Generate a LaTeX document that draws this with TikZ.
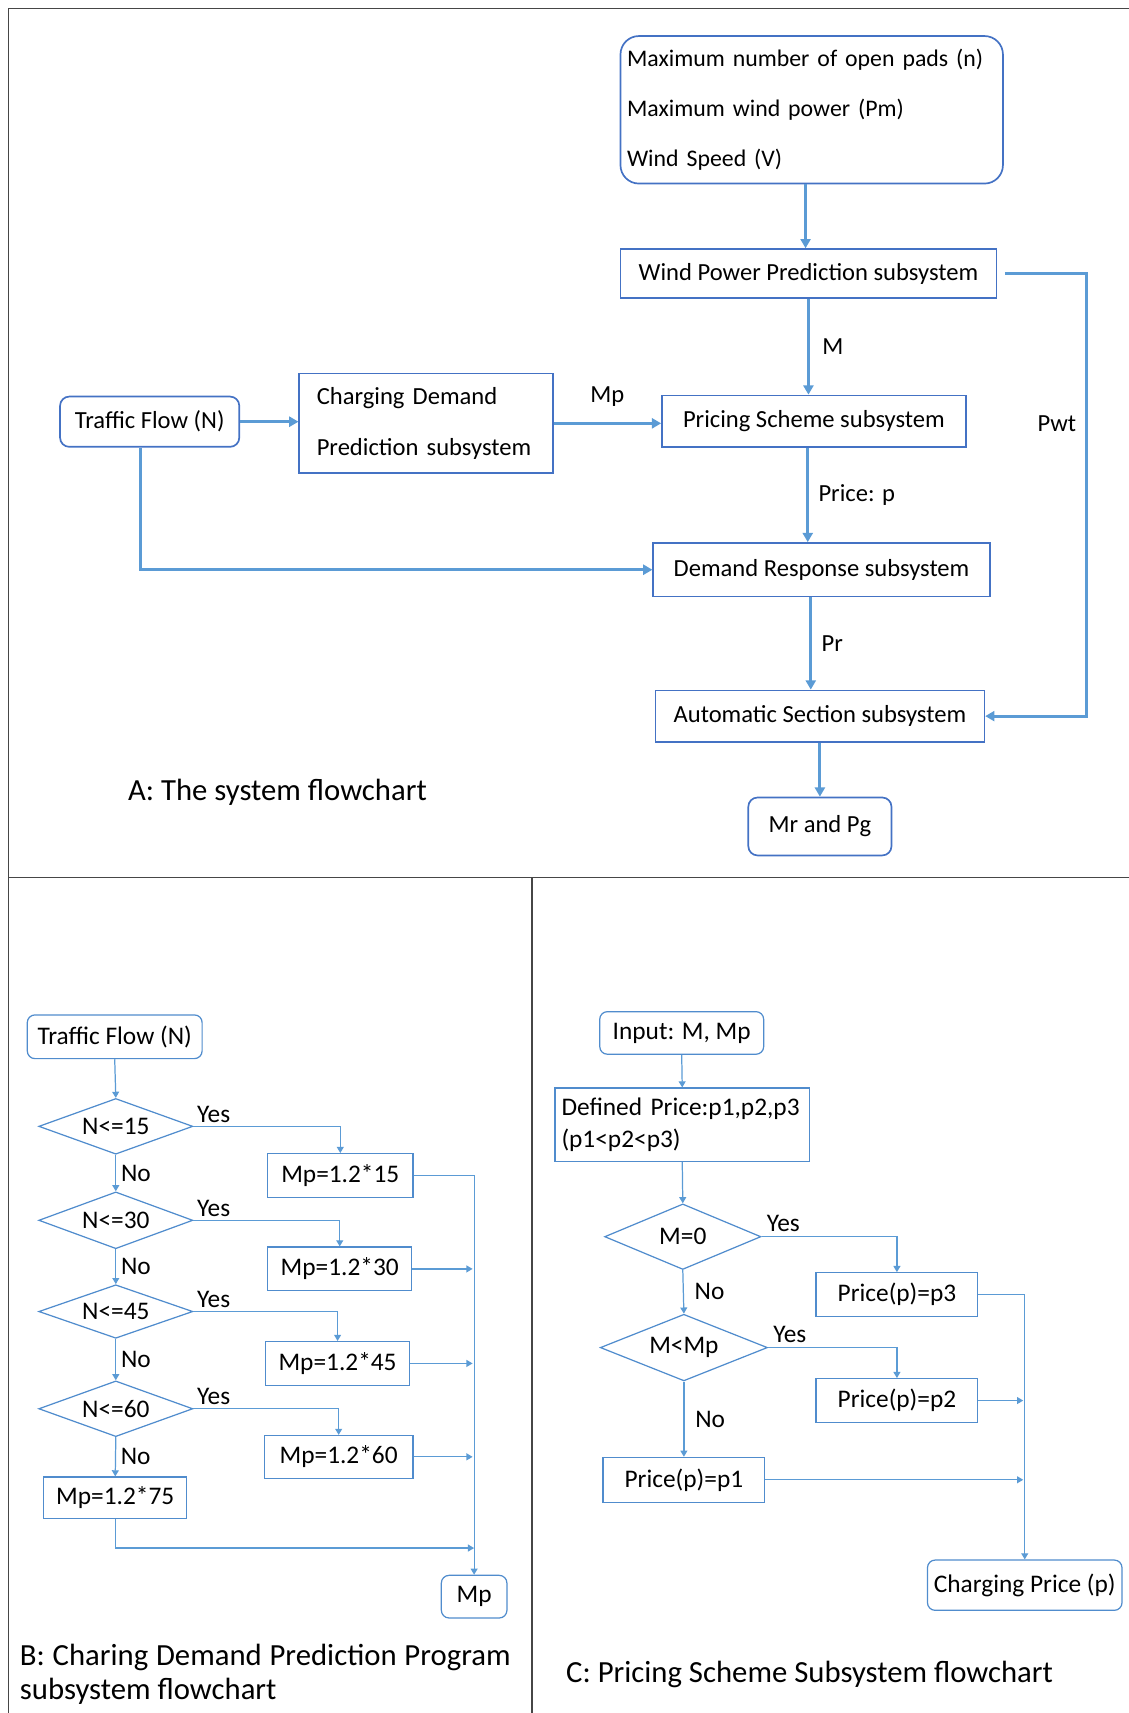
\documentclass[tikz,border=0pt]{standalone}
\usepackage{fontspec}
\setmainfont{Carlito}
\usepackage{xcolor}
\definecolor{LineBlue}{RGB}{91,155,213}
\definecolor{BoxBlue}{RGB}{68,114,196}
\definecolor{SmallBlue}{RGB}{80,140,205}
\definecolor{FrameGray}{RGB}{70,70,70}
\usetikzlibrary{shapes.geometric, arrows.meta}

\newcommand{\fsA}{\fontsize{16}{19}\selectfont}
\newcommand{\fsB}{\fontsize{16.5}{20}\selectfont}
\newcommand{\fsCap}{\fontsize{20}{22}\selectfont}

\begin{document}
\begin{tikzpicture}[x=0.025cm, y=-0.025cm,
	box/.style={draw=BoxBlue, line width=1.1pt, inner sep=0pt, font=\fsA},
	rbox/.style={box, rounded corners=6pt},
	sbox/.style={draw=SmallBlue, line width=0.8pt, inner sep=0pt, font=\fsB, minimum height=1cm},
	srbox/.style={sbox, rounded corners=5pt},
	dia/.style={draw=SmallBlue, line width=0.8pt, diamond, shape aspect=2.8, inner sep=0pt, font=\fsB},
	arr/.style={draw=LineBlue, line width=2pt, -{Triangle[length=6pt,width=6.5pt]}},
	tarr/.style={draw=LineBlue, line width=0.8pt, -{Triangle[length=4pt,width=4.5pt]}},
	lblA/.style={font=\fsA, inner sep=2pt},
	lblB/.style={font=\fsB, inner sep=2pt}]

	\useasboundingbox (0,0) rectangle (1033,1568);

	% frame
	\draw[FrameGray, line width=0.8pt] (1033,8) -- (8,8) -- (8,1568);
	\draw[FrameGray, line width=0.8pt] (8,803) -- (1033,803);
	\draw[FrameGray, line width=0.8pt] (487,803) -- (487,1568);

	% A: system flowchart
	\node[rbox, rounded corners=12pt, minimum width=8.75cm, minimum height=3.375cm, text width=8.45cm, align=left, font=\fontsize{15.5}{32.7}\selectfont] (inp) at (743,100.5) {Maximum number of open pads (n)\\Maximum wind power (Pm)\\Wind Speed (V)};
	\node[box, minimum width=8.6cm, minimum height=1.125cm] (wind) at (740,250.5) {Wind Power Prediction subsystem};
	\node[box, minimum width=6.95cm, minimum height=1.175cm] (pric) at (745,385.5) {Pricing Scheme subsystem};
	\node[rbox, minimum width=4.1cm, minimum height=1.15cm] (traf) at (137,386) {Traffic Flow (N)};
	\node[box, minimum width=5.8cm, minimum height=2.275cm, text width=5cm, align=left, font=\fontsize{16}{32.7}\selectfont] (cdp) at (390,387.5) {Charging Demand\\Prediction subsystem};
	\node[box, minimum width=7.7cm, minimum height=1.225cm] (dem) at (752,521.5) {Demand Response subsystem};
	\node[box, minimum width=7.525cm, minimum height=1.175cm] (auto) at (750.5,655.5) {Automatic Section subsystem};
	\node[rbox, minimum width=3.275cm, minimum height=1.325cm] (mrpg) at (750.5,756.5) {Mr and Pg};
	\node[anchor=west, inner sep=0pt, font=\fsCap] (capA) at (117,725) {A: The system flowchart};

	\draw[arr] ([xshift=-4pt]inp.south) -- ([xshift=-4pt]inp.south |- wind.north);
	\draw[arr] (wind.south) -- (wind.south |- pric.north) node[lblA, midway, right=6pt] {M};
	\draw[arr] ([xshift=5pt]wind.east) -- ++(75,0) |- (auto.east) node[lblA, pos=0.17, left=4pt] {Pwt};
	\draw[arr] (traf.east) -- (traf.east -| cdp.west);
	\draw[arr] (cdp.east) -- (cdp.east -| pric.west) node[lblA, midway, above=8pt] {Mp};
	\draw[arr] ([xshift=-4pt]pric.south) -- ([xshift=-4pt]pric.south |- dem.north) node[lblA, midway, right=4pt] {Price: p};
	\draw[arr] ([xshift=-6pt]traf.south) |- (dem.west);
	\draw[arr] ([xshift=-7pt]dem.south) -- ([xshift=-7pt]dem.south |- auto.north) node[lblA, midway, right=4pt] {Pr};
	\draw[arr] (auto.south) -- (mrpg.north);

	% B: charging demand prediction
	\node[srbox, minimum width=4cm] (tfB) at (105,949) {Traffic Flow (N)};
	\node[dia, minimum width=3.525cm, minimum height=1.275cm] (d15) at (106,1031) {N<=15};
	\node[dia, minimum width=3.525cm, minimum height=1.3cm] (d30) at (106,1117) {N<=30};
	\node[dia, minimum width=3.525cm, minimum height=1.225cm] (d45) at (106,1200.5) {N<=45};
	\node[dia, minimum width=3.525cm, minimum height=1.275cm] (d60) at (106,1289.5) {N<=60};
	\node[sbox, minimum width=3.325cm] (b15) at (311.5,1076) {Mp=1.2*15};
	\node[sbox, minimum width=3.3cm] (b30) at (311,1161.5) {Mp=1.2*30};
	\node[sbox, minimum width=3.3cm] (b45) at (309,1248) {Mp=1.2*45};
	\node[sbox, minimum width=3.4cm, minimum height=0.975cm] (b60) at (310,1333.5) {Mp=1.2*60};
	\node[sbox, minimum width=3.275cm, minimum height=0.95cm] (b75) at (105.5,1371) {Mp=1.2*75};
	\node[srbox, minimum width=1.5cm, minimum height=0.975cm] (mpB) at (434,1461.5) {Mp};
	\coordinate (jB) at (434,1417);
	\node[anchor=north west, inner sep=0pt, text width=11.225cm, align=justify, font=\fsCap] (capB) at (18,1505) {B: Charing Demand Prediction Program subsystem flowchart};

	\draw[tarr] (tfB.south) -- (d15.north);
	\draw[tarr] (d15.south) -- (d30.north) node[lblB, midway, right=1pt] {No};
	\draw[tarr] (d30.south) -- (d45.north) node[lblB, midway, right=1pt] {No};
	\draw[tarr] (d45.south) -- (d60.north) node[lblB, midway, right=1pt] {No};
	\draw[tarr] (d60.south) -- (b75.north) node[lblB, midway, right=1pt] {No};
	\draw[tarr] (d15.east) -| (b15.north) node[lblB, pos=0, above right=0pt] {Yes};
	\draw[tarr] (d30.east) -| (b30.north) node[lblB, pos=0, above right=0pt] {Yes};
	\draw[tarr] (d45.east) -| (b45.north) node[lblB, pos=0, above right=0pt] {Yes};
	\draw[tarr] (d60.east) -| (b60.north) node[lblB, pos=0, above right=0pt] {Yes};
	\draw[tarr] (b15.east) -| (mpB.north);
	\draw[tarr, shorten >=1pt] (b30.east) -- (b30.east -| mpB.north);
	\draw[tarr, shorten >=1pt] (b45.east) -- (b45.east -| mpB.north);
	\draw[tarr, shorten >=1pt] (b60.east) -- (b60.east -| mpB.north);
	\draw[tarr] (b75.south) |- (jB);

	% C: pricing scheme
	\node[srbox, minimum width=3.75cm, minimum height=0.975cm] (inC) at (624,945.5) {Input: M, Mp};
	\node[sbox, minimum width=5.825cm, minimum height=1.675cm, text width=5.525cm, align=left, font=\fontsize{16.5}{20.6}\selectfont] (defC) at (624.5,1029.5) {Defined Price:p1,p2,p3\\(p1<p2<p3)};
	\node[dia, minimum width=3.575cm, minimum height=1.5cm] (m0) at (625,1132) {M=0};
	\node[dia, minimum width=3.825cm, minimum height=1.525cm] (mmp) at (626,1233.5) {M<Mp};
	\node[sbox, minimum width=3.7cm] (p3) at (821,1185) {Price(p)=p3};
	\node[sbox, minimum width=3.7cm] (p2) at (821,1282) {Price(p)=p2};
	\node[sbox, minimum width=3.7cm, minimum height=1.025cm] (p1) at (626,1354.5) {Price(p)=p1};
	\node[srbox, minimum width=4.45cm, minimum height=1.15cm] (cp) at (938,1451) {Charging Price (p)};
	\node[anchor=west, inner sep=0pt, font=\fsCap] (capC) at (518,1533) {C: Pricing Scheme Subsystem flowchart};

	\draw[tarr] (inC.south) -- (defC.north);
	\draw[tarr] (defC.south) -- (m0.north);
	\draw[tarr] (m0.east) -| (p3.north) node[lblB, pos=0, above right=1pt] {Yes};
	\draw[tarr] (m0.south) -- (mmp.north) node[lblB, midway, right=5pt] {No};
	\draw[tarr] (mmp.east) -| (p2.north) node[lblB, pos=0, above right=1pt] {Yes};
	\draw[tarr] (mmp.south) -- (p1.north) node[lblB, midway, right=5pt] {No};
	\draw[tarr] (p3.east) -| (cp.north);
	\draw[tarr, shorten >=1pt] (p2.east) -- (p2.east -| cp.north);
	\draw[tarr, shorten >=1pt] (p1.east) -- (p1.east -| cp.north);
\end{tikzpicture}
\end{document}
